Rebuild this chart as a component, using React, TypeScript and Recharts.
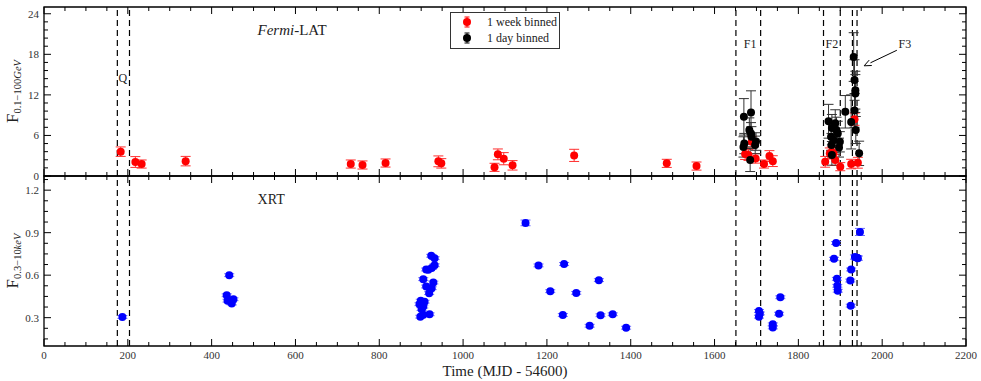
import React from "react";
import {
  ErrorBar, Legend, ReferenceArea, ReferenceDot, ReferenceLine,
  Scatter, ScatterChart, XAxis, YAxis,
} from "recharts";

const FONT = "'Liberation Serif', 'DejaVu Serif', serif";

// Fermi-LAT, 1 week binned (time, flux, error)
const WEEK_T = [183, 218, 233, 338, 732, 760, 815, 941, 948, 1075, 1083, 1097, 1118, 1265, 1486, 1557,
  1673, 1681, 1689, 1698, 1718, 1731, 1739, 1864, 1875, 1880, 1884, 1888, 1900, 1926, 1934, 1942];
const WEEK_F = [3.6, 2.07, 1.77, 2.2, 1.77, 1.63, 1.92, 2.17, 1.87, 1.28, 3.2, 2.56, 1.58, 3.05, 1.87, 1.47,
  3.25, 3.1, 5.06, 2.6, 1.77, 2.95, 2.2, 2.1, 3.35, 3.5, 3.35, 2.36, 1.38, 1.77, 8.4, 1.96];
const WEEK_E = [0.7, 0.8, 0.6, 0.7, 0.6, 0.6, 0.6, 0.8, 0.7, 0.6, 0.8, 0.9, 0.7, 0.9, 0.6, 0.6,
  0.8, 0.8, 0.8, 0.7, 0.6, 0.8, 0.8, 0.8, 0.8, 0.8, 0.8, 0.8, 0.6, 0.7, 0.9, 0.8];

// Fermi-LAT, 1 day binned
const DAY_T = [1670, 1669, 1671, 1683, 1685, 1687, 1687, 1688, 1697, 1699,
  1872, 1878, 1879, 1880, 1880, 1884, 1888, 1891, 1894, 1899, 1897, 1912, 1926, 1932, 1934, 1934, 1936, 1936, 1937, 1945];
const DAY_F = [8.75, 4.3, 4.8, 6.8, 2.36, 9.4, 6.3, 5.8, 4.6, 5.1,
  8.1, 5.8, 4.6, 7.1, 3.1, 5.3, 7.8, 6.8, 6.3, 5.06, 4.2, 9.5, 8.0, 17.6, 14.2, 9.7, 12.7, 12.2, 6.8, 3.35];
const DAY_E = [2.7, 1.5, 1.5, 1.8, 1.7, 3.2, 1.6, 1.5, 1.3, 1.3,
  2.5, 2.0, 1.7, 2.0, 1.5, 1.8, 2.0, 1.9, 1.8, 1.5, 1.4, 2.4, 4.0, 3.6, 3.0, 2.5, 2.8, 2.8, 2.0, 1.8];

// Swift-XRT
const XRT_T = [187, 436, 438, 442, 448, 452,
  898, 905, 920, 905, 896, 908, 901, 899, 919, 912, 925, 929, 905, 917, 912, 925, 932, 924, 932,
  1149, 1180, 1208, 1238, 1241, 1270, 1302, 1324, 1328, 1357, 1389,
  1706, 1708, 1706, 1739, 1739, 1754, 1757,
  1885, 1890, 1892, 1893, 1894, 1924, 1926, 1925, 1935, 1940, 1942, 1947];
const XRT_F = [0.305, 0.458, 0.42, 0.6, 0.4, 0.43,
  0.307, 0.32, 0.324, 0.378, 0.395, 0.413, 0.36, 0.42, 0.473, 0.52, 0.508, 0.548, 0.572, 0.638, 0.64, 0.65, 0.67, 0.737, 0.72,
  0.969, 0.669, 0.487, 0.319, 0.679, 0.475, 0.243, 0.565, 0.317, 0.324, 0.229,
  0.347, 0.33, 0.307, 0.253, 0.231, 0.328, 0.444,
  0.716, 0.827, 0.574, 0.525, 0.49, 0.562, 0.64, 0.385, 0.728, 0.723, 0.72, 0.905];
const XRT_E = [0.01, 0.01, 0.01, 0.01, 0.01, 0.01,
  0.01, 0.01, 0.01, 0.01, 0.01, 0.01, 0.01, 0.01, 0.01, 0.01, 0.01, 0.01, 0.01, 0.01, 0.01, 0.01, 0.01, 0.01, 0.01,
  0.02, 0.01, 0.01, 0.01, 0.01, 0.01, 0.01, 0.01, 0.01, 0.01, 0.01,
  0.01, 0.01, 0.01, 0.01, 0.01, 0.01, 0.01,
  0.01, 0.01, 0.01, 0.01, 0.01, 0.01, 0.01, 0.01, 0.015, 0.015, 0.015, 0.025];

// epoch boundaries (Q, F1, F2, F3)
const EPOCHS = [175, 204, 1651, 1710, 1860, 1900, 1929, 1940];
const EPOCH_LABELS = [
  { x: 188, y: 14.5, text: "Q" },
  { x: 1685, y: 19.5, text: "F1" },
  { x: 1880, y: 19.5, text: "F2" },
  { x: 2054, y: 19.5, text: "F3" },
];
const LEGEND_ORDER = ["1 week binned", "1 day binned"];

const X_TICKS = [0, 200, 400, 600, 800, 1000, 1200, 1400, 1600, 1800, 2000, 2200];
const TOP_Y_TICKS = [0, 6, 12, 18, 24];
const BOT_Y_TICKS = [0.3, 0.6, 0.9, 1.2];

const zip = (t: number[], f: number[], e: number[]) => t.map((x, i) => ({ x, y: f[i], e: e[i] }));
const week = zip(WEEK_T, WEEK_F, WEEK_E);
const day = zip(DAY_T, DAY_F, DAY_E);
const xrt = zip(XRT_T, XRT_F, XRT_E);

// minor ticks between majors
const withMinors = (majors: number[], n: number, lo: number, hi: number) => {
  const step = (majors[1] - majors[0]) / n;
  const out: number[] = [];
  for (let v = majors[0] - Math.floor((majors[0] - lo) / step + 1e-9) * step; v <= hi + 1e-9; v += step)
    out.push(Math.round(v * 1000) / 1000);
  return out;
};
const isMajor = (v: number, majors: number[]) => majors.some((m) => Math.abs(m - v) < 1e-6);

const PLOT_W = 922;

const yTick = (majors: number[], fmt: (v: number) => string) => (p: any) => {
  const v = p.payload.value;
  const maj = isMajor(v, majors);
  const len = maj ? 7 : 4;
  return (
    <g>
      <line x1={p.x} x2={p.x + len} y1={p.y} y2={p.y} stroke="#000" strokeWidth={1} />
      <line x1={p.x + PLOT_W} x2={p.x + PLOT_W - len} y1={p.y} y2={p.y} stroke="#000" strokeWidth={1} />
      {maj && (
        <text x={p.x - 5} y={p.y} dy={4} textAnchor="end" fontFamily={FONT} fontSize={11} fill="#333">{fmt(v)}</text>
      )}
    </g>
  );
};

const xTick = (plotH: number, labels: boolean) => (p: any) => {
  const v = p.payload.value;
  const maj = isMajor(v, X_TICKS);
  const len = maj ? 7 : 4;
  return (
    <g>
      <line x1={p.x} x2={p.x} y1={p.y} y2={p.y - len} stroke="#000" strokeWidth={1} />
      <line x1={p.x} x2={p.x} y1={p.y - plotH} y2={p.y - plotH + len} stroke="#000" strokeWidth={1} />
      {labels && maj && (
        <text x={p.x} y={p.y + 13} textAnchor="middle" fontFamily={FONT} fontSize={11} fill="#333">{v}</text>
      )}
    </g>
  );
};

const yLabel = (sub: string, unit: string) => (props: any) => {
  const vb = props.viewBox;
  const cx = 18;
  const cy = vb.y + vb.height / 2;
  return (
    <text transform={`translate(${cx},${cy}) rotate(-90)`} textAnchor="middle" fontFamily={FONT} fill="#222">
      <tspan fontSize={17}>F</tspan>
      <tspan fontSize={10.5} dy={3}>{sub}</tspan>
      <tspan fontSize={10.5} fontStyle="italic">{unit}</tspan>
    </text>
  );
};

const dot = (color: string, r = 4) => (p: any) => <circle cx={p.cx} cy={p.cy} r={r} fill={color} />;

const textShape = (content: React.ReactNode, size = 13) => (p: any) => (
  <text x={p.cx} y={p.cy} dy={size * 0.35} textAnchor="middle" fontFamily={FONT} fontSize={size} fill="#222">{content}</text>
);

const arrowShape = (p: any) => {
  const { x1, y1, x2, y2 } = p;
  const a = Math.atan2(y2 - y1, x2 - x1);
  const h = 7;
  const w = 3;
  const bx = x2 - h * Math.cos(a);
  const by = y2 - h * Math.sin(a);
  return (
    <g>
      <line x1={x1} y1={y1} x2={bx} y2={by} stroke="#000" strokeWidth={1} />
      <path
        d={`M${x2},${y2} L${bx - w * Math.sin(a)},${by + w * Math.cos(a)} M${x2},${y2} L${bx + w * Math.sin(a)},${by - w * Math.cos(a)}`}
        stroke="#000" strokeWidth={1} fill="none"
      />
    </g>
  );
};

const LegendBox = (props: any) => {
  const items = ([...(props.payload || [])] as any[]).sort(
    (a, b) => LEGEND_ORDER.indexOf(a.value) - LEGEND_ORDER.indexOf(b.value),
  );
  return (
    <div style={{ width: 108, height: 34, border: "1.5px solid #333", background: "#fff", fontFamily: FONT, fontSize: 12, color: "#222", padding: "1px 0 0 0" }}>
      {items.map((it, i) => (
        <div key={i} style={{ display: "flex", alignItems: "center", height: 16 }}>
          <svg width={30} height={16}>
            <line x1={16} x2={16} y1={3} y2={13} stroke={it.color} strokeWidth={1} />
            <line x1={13.5} x2={18.5} y1={3} y2={3} stroke={it.color} strokeWidth={1} />
            <line x1={13.5} x2={18.5} y1={13} y2={13} stroke={it.color} strokeWidth={1} />
            <circle cx={16} cy={8} r={4} fill={it.color} />
          </svg>
          <span style={{ marginLeft: 6 }}>{it.value}</span>
        </div>
      ))}
    </div>
  );
};

export default function App() {
  return (
    <div style={{ position: "absolute", left: 0, top: 0, width: 981, height: 381, background: "#fff" }}>
      <div style={{ position: "absolute", left: 0, top: 0 }}>
        <ScatterChart width={981} height={186} margin={{ top: 7, right: 15, left: 43, bottom: 9 }}>
          <XAxis dataKey="x" type="number" domain={[0, 2200]} ticks={withMinors(X_TICKS, 4, 0, 2200)} interval={0}
            height={1} axisLine={false} tickLine={false} tickSize={0} tickMargin={0} tick={xTick(169, false)} />
          <YAxis dataKey="y" type="number" domain={[0, 25]} ticks={withMinors(TOP_Y_TICKS, 5, 0, 25)} interval={0}
            width={1} axisLine={false} tickLine={false} tickSize={0} tickMargin={0}
            tick={yTick(TOP_Y_TICKS, (v) => String(v))}
            label={{ content: yLabel("0.1−100", "GeV") }} />
          <ReferenceArea x1={0} x2={2200} y1={0} y2={25} fill="none" stroke="#000" strokeWidth={1.3} />
          {EPOCHS.map((x) => (
            <ReferenceLine key={x} x={x} stroke="#000" strokeWidth={1.2} strokeDasharray="6 4" />
          ))}
          {EPOCH_LABELS.map((l) => (
            <ReferenceDot key={l.text} x={l.x} y={l.y} r={0} shape={textShape(l.text, 12)} />
          ))}
          <ReferenceDot x={592} y={21.6} r={0}
            shape={textShape(<><tspan fontStyle="italic">Fermi</tspan>-LAT</>, 15)} />
          <ReferenceLine segment={[{ x: 2035, y: 18.6 }, { x: 1957, y: 16.3 }]} shape={arrowShape} />
          <Scatter name="1 week binned" data={week} fill="#ff0000" shape={dot("#ff0000")} isAnimationActive={false}>
            <ErrorBar dataKey="e" direction="y" width={5} stroke="#ff3030" strokeWidth={1} />
          </Scatter>
          <Scatter name="1 day binned" data={day} fill="#000000" shape={dot("#000")} isAnimationActive={false}>
            <ErrorBar dataKey="e" direction="y" width={5} stroke="#333" strokeWidth={1} />
          </Scatter>
          <Legend layout="horizontal" verticalAlign="middle" align="center" content={<LegendBox />}
            wrapperStyle={{ left: 450, top: 12, width: 111, height: 37 }} />
        </ScatterChart>
      </div>
      <div style={{ position: "absolute", left: 0, top: 170 }}>
        <ScatterChart width={981} height={211} margin={{ top: 6, right: 15, left: 43, bottom: 0 }}>
          <XAxis dataKey="x" type="number" domain={[0, 2200]} ticks={withMinors(X_TICKS, 4, 0, 2200)} interval={0}
            height={35} axisLine={false} tickLine={false} tickSize={0} tickMargin={0} tick={xTick(170, true)}
            label={{
              content: (p: any) => (
                <text x={p.viewBox.x + p.viewBox.width / 2} y={p.viewBox.y + 30} textAnchor="middle"
                  fontFamily={FONT} fontSize={15} fill="#222">Time (MJD - 54600)</text>
              ),
            }} />
          <YAxis dataKey="y" type="number" domain={[0.1, 1.3]} ticks={withMinors(BOT_Y_TICKS, 4, 0.1, 1.3)} interval={0}
            width={1} axisLine={false} tickLine={false} tickSize={0} tickMargin={0}
            tick={yTick(BOT_Y_TICKS, (v) => v.toFixed(1))}
            label={{ content: yLabel("0.3−10", "keV") }} />
          <ReferenceArea x1={0} x2={2200} y1={0.1} y2={1.3} fill="none" stroke="#000" strokeWidth={1.3} />
          {EPOCHS.map((x) => (
            <ReferenceLine key={x} x={x} stroke="#000" strokeWidth={1.2} strokeDasharray="6 4" />
          ))}
          <ReferenceDot x={542} y={1.138} r={0} shape={textShape("XRT", 14)} />
          <Scatter name="XRT" data={xrt} fill="#0000ff" shape={dot("#0000ff")} isAnimationActive={false}>
            <ErrorBar dataKey="e" direction="y" width={5} stroke="#6a6aff" strokeWidth={1} />
          </Scatter>
        </ScatterChart>
      </div>
    </div>
  );
}
